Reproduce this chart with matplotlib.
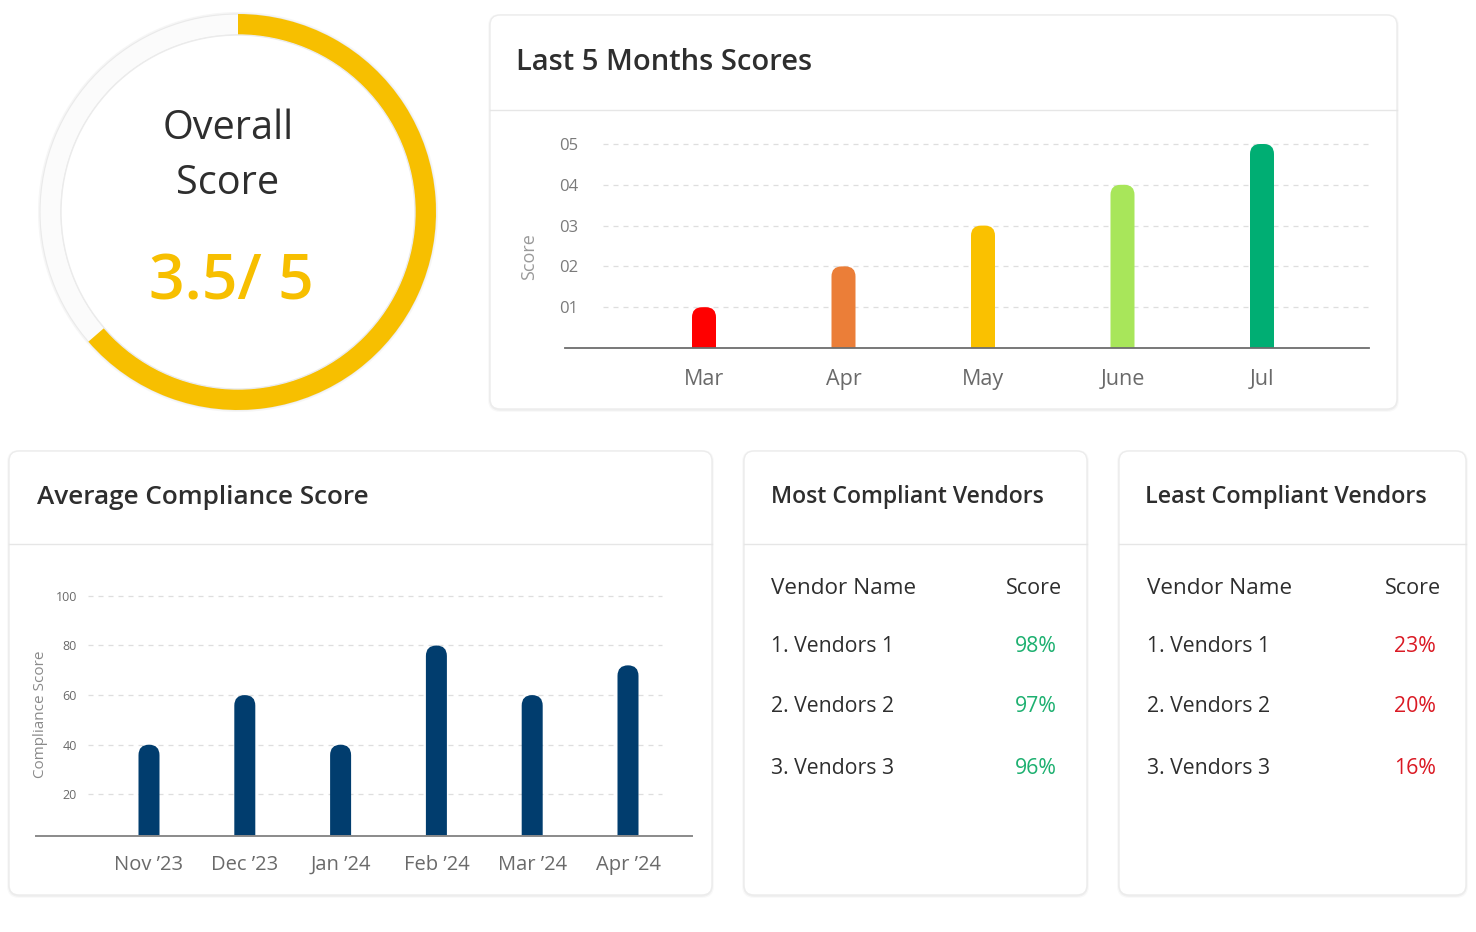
import matplotlib
matplotlib.use("Agg")
import matplotlib.pyplot as plt
from matplotlib.patches import FancyBboxPatch, Wedge, Circle

# ---------------- data ----------------
overall_score = 3.5
overall_max = 5
gauge_scale = 5.5          # scale the ring fill is drawn on

month_labels = ["Mar", "Apr", "May", "June", "Jul"]
month_scores = [1, 2, 3, 4, 5]
month_colors = ["#FF0000", "#EB7E38", "#FAC100", "#A8E65A", "#00AE73"]
score_ticks = [1, 2, 3, 4, 5]
score_tick_labels = ["01", "02", "03", "04", "05"]

comp_labels = ["Nov \u201923", "Dec \u201923", "Jan \u201924", "Feb \u201924", "Mar \u201924", "Apr \u201924"]
comp_values = [40, 60, 40, 80, 60, 72]
comp_ticks = [20, 40, 60, 80, 100]

most_vendors = ["1. Vendors 1", "2. Vendors 2", "3. Vendors 3"]
most_scores = ["98%", "97%", "96%"]
least_vendors = ["1. Vendors 1", "2. Vendors 2", "3. Vendors 3"]
least_scores = ["23%", "20%", "16%"]

# ---------------- style ----------------
FONT = ["Open Sans", "DejaVu Sans"]
plt.rcParams["font.family"] = FONT
DARK = "#2e2e2e"
GREY = "#7a7a7a"
YEL = "#F7BF00"
NAVY = "#013D6E"
GREEN = "#1DB070"
RED = "#DA1A24"

W, H = 1476, 932
fig = plt.figure(figsize=(W / 100, H / 100), dpi=100)
fig.patch.set_facecolor("white")

bg = fig.add_axes([0, 0, 1, 1], zorder=0)
bg.set_xlim(0, W)
bg.set_ylim(H, 0)
bg.axis("off")


def card(x0, y0, x1, y1, sep=None):
    for off, a in [(4, 0.025), (2, 0.035)]:
        bg.add_patch(FancyBboxPatch((x0 - off / 2, y0 - off / 2 + 1), x1 - x0 + off, y1 - y0 + off,
                                    boxstyle="round,pad=0,rounding_size=12",
                                    fc="black", ec="none", alpha=a, zorder=1))
    bg.add_patch(FancyBboxPatch((x0, y0), x1 - x0, y1 - y0,
                                boxstyle="round,pad=0,rounding_size=10",
                                fc="white", ec="#ececec", lw=1.0, zorder=2))
    if sep is not None:
        bg.plot([x0, x1], [sep, sep], color="#e6e6e6", lw=1.0, zorder=3)


# ---------------- gauge ----------------
cx, cy = 238, 212
bg.add_patch(Circle((cx, cy), 200, fc="#f0f0f0", ec="none", alpha=0.6, zorder=1))
bg.add_patch(Wedge((cx, cy), 198, 0, 360, width=21, fc="#fbfbfb", ec="#eaeaea", lw=0.8, zorder=2))
frac = overall_score / gauge_scale
bg.add_patch(Wedge((cx, cy), 198, -90, -90 + 360 * frac, width=21, fc=YEL, ec="none", zorder=3))
bg.add_patch(Circle((cx, cy), 177, fc="white", ec="#ebebeb", lw=1.0, zorder=4))
bg.text(228, 129, "Overall", ha="center", va="center", fontsize=28.5, color=DARK, zorder=5)
bg.text(228, 184, "Score", ha="center", va="center", fontsize=28.5, color=DARK, zorder=5)
bg.text(231, 283, f"{overall_score:g}/ {overall_max:g}", ha="center", va="center",
        fontsize=45, color=YEL, fontweight="semibold", zorder=5)

# ---------------- cards ----------------
card(490, 15, 1397, 409, sep=110)
card(9, 451, 712, 895, sep=544)
card(744, 451, 1087, 895, sep=544)
card(1119, 451, 1466, 895, sep=544)

bg.text(516, 63, "Last 5 Months Scores", ha="left", va="center", fontsize=21,
        fontweight="semibold", color=DARK, zorder=5)
bg.text(37, 497, "Average Compliance Score", ha="left", va="center", fontsize=18.8,
        fontweight="semibold", color=DARK, zorder=5)
bg.text(771, 497, "Most Compliant Vendors", ha="left", va="center", fontsize=16.6,
        fontweight="semibold", color=DARK, zorder=5)
bg.text(1145, 497, "Least Compliant Vendors", ha="left", va="center", fontsize=16.8,
        fontweight="semibold", color=DARK, zorder=5)

# tables
for (nx, sx, names, scores, col) in [(771, 1034, most_vendors, most_scores, GREEN),
                                     (1147, 1413, least_vendors, least_scores, RED)]:
    bg.text(nx, 588, "Vendor Name", ha="left", va="center", fontsize=16.2, color=DARK,
            fontweight="medium", zorder=5)
    bg.text(sx, 588, "Score", ha="center", va="center", fontsize=15.5, color=DARK,
            fontweight="medium", zorder=5)
    for i, (n, s) in enumerate(zip(names, scores)):
        y = 646 + i * 61
        bg.text(nx, y, n, ha="left", va="center", fontsize=15.3, color=DARK, zorder=5)
        bg.text(sx + 2, y, s, ha="center", va="center", fontsize=15.3, color=col, zorder=5)


def fig_rect(x0, y0, x1, y1):
    return [x0 / W, 1 - y1 / H, (x1 - x0) / W, (y1 - y0) / H]


def rounded_bars(ax, xs, vals, width, colors, rfrac=0.45):
    bars = ax.bar(xs, vals, width=width, color=colors, zorder=3)
    bb = ax.get_window_extent()
    x0, x1 = ax.get_xlim()
    y0, y1 = ax.get_ylim()
    px_x = bb.width / (x1 - x0)
    px_y = bb.height / (y1 - y0)
    aspect = px_x / px_y
    for b in bars:
        b.set_visible(False)
        r = b.get_width() * rfrac
        ext = r * aspect * 2
        p = FancyBboxPatch((b.get_x(), y0 - ext), b.get_width(), b.get_height() - (y0 - ext),
                           boxstyle=f"round,pad=0,rounding_size={r}", mutation_aspect=aspect,
                           fc=b.get_facecolor(), ec="none", zorder=3)
        ax.add_patch(p)
    return bars


# ---------------- top chart ----------------
ax1 = fig.add_axes(fig_rect(603, 130, 1369, 348), zorder=2)
ax1.set_facecolor("none")
step1 = 139.5
x_l1 = (603 - 704) / step1
x_r1 = (1369 - 704) / step1
ax1.set_xlim(x_l1, x_r1)
ax1.set_ylim(0, 5 + 14 / 40.8)
xs1 = list(range(len(month_labels)))
ax1.hlines(score_ticks, x_l1, x_r1, colors="#dedede", linestyles=(0, (4, 4)), lw=0.9, zorder=1)
rounded_bars(ax1, xs1, month_scores, 24 / step1, month_colors, rfrac=0.42)
ax1.plot([(565 - 704) / step1, x_r1], [0, 0], color="#6d6d6d", lw=1.3, clip_on=False, zorder=4)
for s in ax1.spines.values():
    s.set_visible(False)
ax1.set_yticks(score_ticks, score_tick_labels)
ax1.set_xticks(xs1, month_labels)
ax1.tick_params(axis="y", length=0, pad=18, labelsize=12, labelcolor=GREY)
ax1.tick_params(axis="x", length=0, pad=15, labelsize=15.5, labelcolor="#6a6a6a")
bg.text(529, 257, "Score", rotation=90, ha="center", va="center", fontsize=13, color="#9a9a9a", zorder=5)

# ---------------- bottom chart ----------------
ax2 = fig.add_axes(fig_rect(88, 584, 692, 835.7), zorder=2)
ax2.set_facecolor("none")
step2 = 95.8
x_l2 = (88 - 149) / step2
x_r2 = (692 - 149) / step2
ax2.set_xlim(x_l2, x_r2)
ax2.set_ylim(3.3, 104.8)
xs2 = list(range(len(comp_labels)))
ax2.hlines(comp_ticks, x_l2, (662 - 149) / step2, colors="#dedede", linestyles=(0, (4, 4)), lw=0.9, zorder=1)
rounded_bars(ax2, xs2, comp_values, 21 / step2, [NAVY] * len(comp_values), rfrac=0.5)
ax2.plot([(36 - 149) / step2, x_r2], [3.3, 3.3], color="#8a8a8a", lw=1.4, clip_on=False, zorder=4)
for s in ax2.spines.values():
    s.set_visible(False)
ax2.set_yticks(comp_ticks, [str(t) for t in comp_ticks])
ax2.set_xticks(xs2, comp_labels)
ax2.tick_params(axis="y", length=0, pad=8, labelsize=9, labelcolor="#6a6a6a")
ax2.tick_params(axis="x", length=0, pad=14, labelsize=14.5, labelcolor="#6a6a6a")
bg.text(40, 714, "Compliance Score", rotation=90, ha="center", va="center", fontsize=11,
        color="#8a8a8a", zorder=5)

fig.savefig("out.png", dpi=100, facecolor="white")
